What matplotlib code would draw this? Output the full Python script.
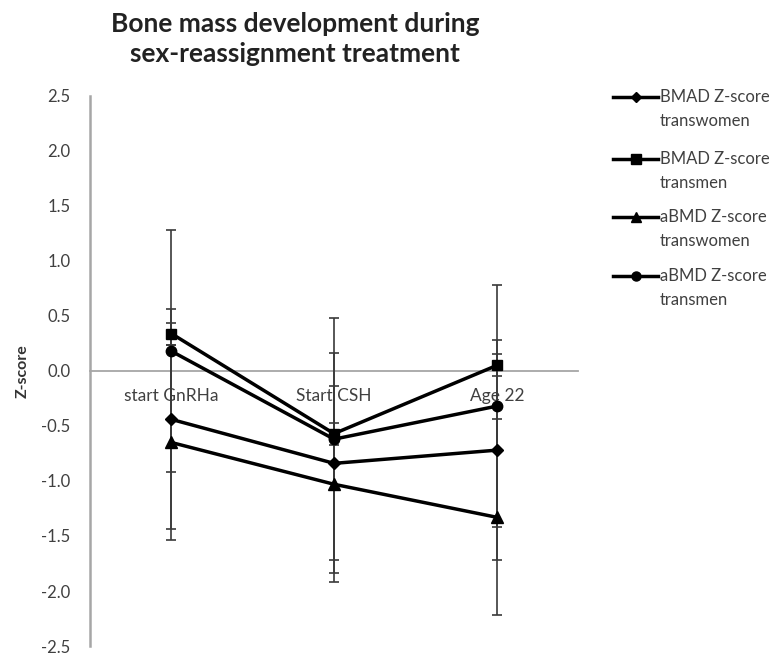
import matplotlib.pyplot as plt
import numpy as np

plt.rcParams['font.family'] = ['Lato', 'DejaVu Sans']

stages = ['start GnRHa', 'Start CSH', 'Age 22']

bmad_women = [-0.44, -0.84, -0.72]
bmad_men = [0.34, -0.57, 0.05]
abmd_women = [-0.65, -1.03, -1.33]
abmd_men = [0.18, -0.62, -0.32]

err_bmad_women = [1.0, 1.0, 1.0]
err_bmad_men = [0.1, 0.1, 0.1]
err_abmd_women = [0.89, 0.89, 0.89]
err_abmd_men = [1.1, 1.1, 1.1]

labels = ['BMAD Z-score\ntranswomen', 'BMAD Z-score\ntransmen',
          'aBMD Z-score\ntranswomen', 'aBMD Z-score\ntransmen']

fig = plt.figure(figsize=(7.75, 6.55), dpi=100)
ax = fig.add_axes([0.116, 0.0137, 0.63, 0.840])

x = np.arange(len(stages))
series = [
    (bmad_women, err_bmad_women, 'D', 6),
    (bmad_men, err_bmad_men, 's', 7.5),
    (abmd_women, err_abmd_women, '^', 8),
    (abmd_men, err_abmd_men, 'o', 7.5),
]
for vals, err, mk, ms in series:
    ax.errorbar(x, vals, yerr=err, color='black', ecolor='#3a3a3a',
                elinewidth=1.2, capsize=3.5, capthick=1.2,
                marker=mk, markersize=ms, linewidth=2.5, zorder=3)

ax.set_xlim(-0.5, 2.5)
ax.set_ylim(-2.5, 2.5)
yt = np.arange(-2.5, 2.51, 0.5)
ax.set_yticks(yt)
ax.set_yticklabels(['%.1f' % v for v in yt])
ax.set_xticks(x)
ax.set_xticklabels(stages)

ax.spines['top'].set_visible(False)
ax.spines['right'].set_visible(False)
ax.spines['left'].set_color('#a6a6a6')
ax.spines['left'].set_linewidth(1.8)
ax.spines['bottom'].set_position(('data', 0))
ax.spines['bottom'].set_color('#a6a6a6')
ax.spines['bottom'].set_linewidth(1.3)
ax.tick_params(axis='both', length=0, colors='#404040')
ax.tick_params(axis='x', labelsize=12.5, pad=12)
ax.tick_params(axis='y', labelsize=12, pad=14)

ax.set_ylabel('Z-score', fontsize=11.5, fontweight='bold', color='#333333', labelpad=8)

fig.text(0.381, 0.982, 'Bone mass development during\nsex-reassignment treatment',
         ha='center', va='top', fontsize=19, fontweight='bold',
         color='#222222', linespacing=1.3)

# legend drawn by hand so the symbol sits on the first text line
lg = fig.add_axes([0, 0, 1, 1], facecolor='none')
lg.set_xlim(0, 775)
lg.set_ylim(655, 0)
lg.axis('off')
leg_y = [97, 159, 217, 276]
leg_ms = [5, 6.5, 6.5, 6.5]
for (vals, err, mk, ms), lab, yy, lms in zip(series, labels, leg_y, leg_ms):
    lg.plot([613, 658], [yy, yy], color='black', linewidth=2.5)
    lg.plot([635.5], [yy], color='black', marker=mk, markersize=lms)
    lg.text(660, yy - 8, lab, ha='left', va='top', fontsize=12,
            color='#404040', linespacing=1.62)

fig.savefig('out.png', dpi=100)
